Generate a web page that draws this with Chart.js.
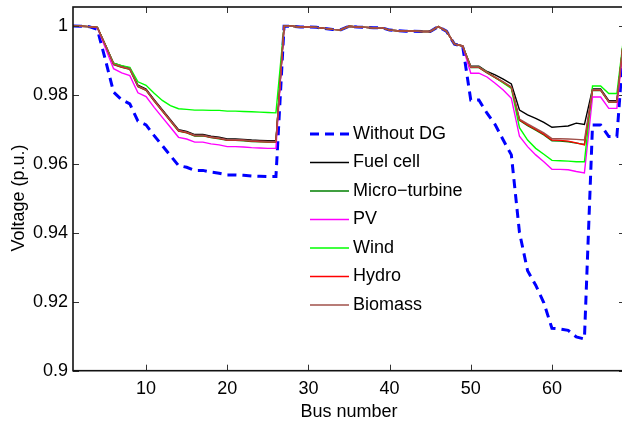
<!DOCTYPE html>
<html>
<head>
<meta charset="utf-8">
<script src="https://cdn.jsdelivr.net/npm/chart.js@4.4.1/dist/chart.umd.min.js"></script>
<style>
  html, body { margin: 0; padding: 0; background: #fff; overflow: hidden; }
  #wrap { width: 622px; height: 425px; overflow: hidden; position: relative; }
  canvas { display: block; }
</style>
</head>
<body>
<div id="wrap"><canvas id="c" width="626" height="425" style="width:626px;height:425px"></canvas></div>
<script>
// ---------------- DATA ----------------
const buses = [1,2,3,4,5,6,7,8,9,10,11,12,13,14,15,16,17,18,19,20,21,22,23,24,25,26,27,28,29,30,
  31,32,33,34,35,36,37,38,39,40,41,42,43,44,45,46,47,48,49,50,51,52,53,54,55,56,57,58,59,60,
  61,62,63,64,65,66,67,68,69];

const xTickValues = [10, 20, 30, 40, 50, 60];
const yTickValues = [0.9, 0.92, 0.94, 0.96, 0.98, 1.0];
const yTickLabels = ['0.9', '0.92', '0.94', '0.96', '0.98', '1'];

const xTitle = 'Bus number';
const yTitle = 'Voltage (p.u.)';
const seriesNames = ['Without DG', 'Fuel cell', 'Micro\u2212turbine', 'PV', 'Wind', 'Hydro', 'Biomass'];

const withoutDG = [1.0000, 0.9999, 0.9998, 0.9990, 0.9901, 0.9808, 0.9786, 0.9774, 0.9724, 0.9713,
  0.9682, 0.9653, 0.9624, 0.9595, 0.9590, 0.9581, 0.9581, 0.9576, 0.9573, 0.9568,
  0.9568, 0.9567, 0.9565, 0.9564, 0.9563, 0.9563, 0.9999, 0.9999, 0.9997, 0.9997,
  0.9996, 0.9993, 0.9990, 0.9989, 0.9999, 0.9997, 0.9996, 0.9995, 0.9995, 0.9988,
  0.9986, 0.9985, 0.9985, 0.9984, 0.9984, 0.9998, 0.9985, 0.9947, 0.9942, 0.9785,
  0.9785, 0.9747, 0.9714, 0.9669, 0.9626, 0.9401, 0.9290, 0.9248, 0.9197, 0.9123,
  0.9121, 0.9117, 0.9098, 0.9092, 0.9713, 0.9713, 0.9679, 0.9679, 0.9999];

const fuelCell = [1.0000, 0.9999, 0.9998, 0.9996, 0.9945, 0.9892, 0.9884, 0.9878, 0.9828, 0.9817,
  0.9786, 0.9757, 0.9728, 0.9699, 0.9694, 0.9685, 0.9685, 0.9680, 0.9677, 0.9672,
  0.9672, 0.9671, 0.9669, 0.9668, 0.9667, 0.9667, 0.9999, 0.9999, 0.9997, 0.9997,
  0.9996, 0.9993, 0.9990, 0.9989, 0.9999, 0.9997, 0.9996, 0.9995, 0.9995, 0.9988,
  0.9986, 0.9985, 0.9985, 0.9984, 0.9984, 0.9998, 0.9985, 0.9947, 0.9942, 0.9883,
  0.9883, 0.9868, 0.9858, 0.9846, 0.9832, 0.9756, 0.9742, 0.9732, 0.9720, 0.9706,
  0.9708, 0.9710, 0.9718, 0.9714, 0.9817, 0.9817, 0.9783, 0.9783, 1.0000];

const microTurbine = [1.0000, 0.9999, 0.9998, 0.9996, 0.9943, 0.9888, 0.9880, 0.9874, 0.9824, 0.9813,
  0.9782, 0.9753, 0.9724, 0.9695, 0.9690, 0.9681, 0.9681, 0.9676, 0.9673, 0.9668,
  0.9668, 0.9667, 0.9665, 0.9664, 0.9663, 0.9663, 0.9999, 0.9999, 0.9997, 0.9997,
  0.9996, 0.9993, 0.9990, 0.9989, 0.9999, 0.9997, 0.9996, 0.9995, 0.9995, 0.9988,
  0.9986, 0.9985, 0.9985, 0.9984, 0.9984, 0.9998, 0.9985, 0.9947, 0.9942, 0.9879,
  0.9879, 0.9864, 0.9850, 0.9836, 0.9821, 0.9726, 0.9711, 0.9698, 0.9684, 0.9667,
  0.9666, 0.9664, 0.9660, 0.9656, 0.9813, 0.9813, 0.9779, 0.9779, 1.0000];

const pv = [1.0000, 0.9999, 0.9998, 0.9995, 0.9935, 0.9876, 0.9864, 0.9856, 0.9806, 0.9795,
  0.9764, 0.9735, 0.9706, 0.9677, 0.9672, 0.9663, 0.9663, 0.9658, 0.9655, 0.9650,
  0.9650, 0.9649, 0.9647, 0.9646, 0.9645, 0.9645, 0.9999, 0.9999, 0.9997, 0.9997,
  0.9996, 0.9993, 0.9990, 0.9989, 0.9999, 0.9997, 0.9996, 0.9995, 0.9995, 0.9988,
  0.9986, 0.9985, 0.9985, 0.9984, 0.9984, 0.9998, 0.9985, 0.9947, 0.9942, 0.9863,
  0.9863, 0.9852, 0.9834, 0.9814, 0.9790, 0.9680, 0.9650, 0.9626, 0.9606, 0.9584,
  0.9584, 0.9583, 0.9578, 0.9574, 0.9794, 0.9794, 0.9761, 0.9761, 1.0000];

const wind = [1.0000, 0.9999, 0.9998, 0.9996, 0.9944, 0.9892, 0.9885, 0.9880, 0.9838, 0.9828,
  0.9805, 0.9784, 0.9769, 0.9760, 0.9758, 0.9756, 0.9756, 0.9755, 0.9755, 0.9753,
  0.9753, 0.9752, 0.9751, 0.9750, 0.9749, 0.9748, 0.9999, 0.9999, 0.9997, 0.9997,
  0.9996, 0.9993, 0.9990, 0.9989, 0.9999, 0.9997, 0.9996, 0.9995, 0.9995, 0.9988,
  0.9986, 0.9985, 0.9985, 0.9984, 0.9984, 0.9998, 0.9985, 0.9947, 0.9942, 0.9881,
  0.9881, 0.9866, 0.9851, 0.9835, 0.9819, 0.9705, 0.9669, 0.9645, 0.9628, 0.9610,
  0.9609, 0.9608, 0.9606, 0.9606, 0.9826, 0.9826, 0.9804, 0.9804, 1.0000];

const hydro = [1.0000, 0.9999, 0.9998, 0.9996, 0.9944, 0.9889, 0.9881, 0.9875, 0.9825, 0.9814,
  0.9783, 0.9754, 0.9725, 0.9696, 0.9691, 0.9682, 0.9682, 0.9677, 0.9674, 0.9669,
  0.9669, 0.9668, 0.9666, 0.9665, 0.9664, 0.9664, 0.9999, 0.9999, 0.9997, 0.9997,
  0.9996, 0.9993, 0.9990, 0.9989, 0.9999, 0.9997, 0.9996, 0.9995, 0.9995, 0.9988,
  0.9986, 0.9985, 0.9985, 0.9984, 0.9984, 0.9998, 0.9985, 0.9947, 0.9942, 0.9880,
  0.9880, 0.9865, 0.9851, 0.9837, 0.9822, 0.9728, 0.9713, 0.9700, 0.9686, 0.9669,
  0.9668, 0.9666, 0.9661, 0.9655, 0.9814, 0.9814, 0.9780, 0.9780, 1.0000];

const biomass = [1.0000, 0.9999, 0.9998, 0.9996, 0.9944, 0.9890, 0.9882, 0.9876, 0.9826, 0.9815,
  0.9784, 0.9755, 0.9726, 0.9697, 0.9692, 0.9683, 0.9683, 0.9678, 0.9675, 0.9670,
  0.9670, 0.9669, 0.9667, 0.9666, 0.9665, 0.9665, 0.9999, 0.9999, 0.9997, 0.9997,
  0.9996, 0.9993, 0.9990, 0.9989, 0.9999, 0.9997, 0.9996, 0.9995, 0.9995, 0.9988,
  0.9986, 0.9985, 0.9985, 0.9984, 0.9984, 0.9998, 0.9985, 0.9947, 0.9942, 0.9881,
  0.9881, 0.9866, 0.9852, 0.9838, 0.9823, 0.9730, 0.9716, 0.9703, 0.9690, 0.9673,
  0.9673, 0.9672, 0.9671, 0.9669, 0.9815, 0.9815, 0.9781, 0.9781, 1.0000];

// ---------------- STYLE ----------------
const FONT = "'Liberation Sans', Arial, Helvetica, sans-serif";
const seriesData = [withoutDG, fuelCell, microTurbine, pv, wind, hydro, biomass];
const seriesColors = ['#0000ff', '#000000', '#007f00', '#ff00ff', '#00ff00', '#ff0000', '#a0504a'];
const seriesWidths = [3, 1.4, 1.4, 1.4, 1.4, 1.4, 1.4];

const datasets = seriesNames.map((name, i) => ({
  label: name,
  data: buses.map((b, j) => ({ x: b, y: seriesData[i][j] })),
  borderColor: seriesColors[i],
  backgroundColor: seriesColors[i],
  borderWidth: seriesWidths[i],
  borderDash: i === 0 ? [9, 6] : [],
  pointRadius: 0,
  tension: 0,
  fill: false,
  order: seriesNames.length - i
}));

const boxAndTicks = {
  id: 'boxAndTicks',
  afterDatasetsDraw(chart) {
    const { ctx, chartArea: a, scales: { x, y } } = chart;
    ctx.save();
    ctx.strokeStyle = '#333';
    ctx.lineWidth = 1;
    const tl = 6;
    xTickValues.forEach(v => {
      const px = Math.round(x.getPixelForValue(v)) + 0.5;
      ctx.beginPath(); ctx.moveTo(px, a.bottom); ctx.lineTo(px, a.bottom - tl); ctx.stroke();
      ctx.beginPath(); ctx.moveTo(px, a.top); ctx.lineTo(px, a.top + tl); ctx.stroke();
    });
    yTickValues.forEach(v => {
      const py = Math.round(y.getPixelForValue(v)) + 0.5;
      ctx.beginPath(); ctx.moveTo(a.left, py); ctx.lineTo(a.left + tl, py); ctx.stroke();
      ctx.beginPath(); ctx.moveTo(a.right, py); ctx.lineTo(a.right - tl, py); ctx.stroke();
    });
    ctx.strokeStyle = '#111';
    ctx.lineWidth = 1.6;
    ctx.strokeRect(a.left, a.top, a.right - a.left, a.bottom - a.top);
    ctx.restore();
  }
};

const textPlugin = {
  id: 'customText',
  afterDraw(chart) {
    const { ctx, chartArea: a } = chart;
    ctx.save();
    ctx.font = '18px ' + FONT;
    // y-axis title
    ctx.save();
    ctx.translate(19.5, 198);
    ctx.rotate(-Math.PI / 2);
    ctx.textAlign = 'center';
    ctx.textBaseline = 'middle';
    ctx.fillStyle = '#000';
    ctx.fillText(yTitle, 0, 0);
    ctx.restore();
    // legend
    const x0 = 310, x1 = 349, tx = 353, y0 = 134, step = 28.5;
    ctx.textBaseline = 'middle';
    ctx.textAlign = 'left';
    chart.data.datasets.forEach((ds, i) => {
      const yy = y0 + i * step;
      ctx.beginPath();
      ctx.strokeStyle = ds.borderColor;
      ctx.lineWidth = ds.borderWidth;
      ctx.setLineDash(ds.borderDash || []);
      ctx.moveTo(x0, yy); ctx.lineTo(x1, yy);
      ctx.stroke();
      ctx.setLineDash([]);
      ctx.fillStyle = '#000';
      ctx.fillText(ds.label, tx, yy);
    });
    ctx.restore();
  }
};

new Chart(document.getElementById('c'), {
  type: 'line',
  data: { datasets },
  options: {
    responsive: false,
    animation: false,
    devicePixelRatio: 1,
    layout: { padding: { left: 0, right: 1, top: 7, bottom: 0 } },
    plugins: { legend: { display: false }, tooltip: { enabled: false } },
    scales: {
      x: {
        type: 'linear',
        min: 1, max: 69,
        afterBuildTicks: s => { s.ticks = xTickValues.map(v => ({ value: v })); },
        afterFit: s => { s.height = 54.3; s.paddingLeft = 0; s.paddingRight = 0; },
        grid: { display: false, drawTicks: false },
        border: { display: false },
        ticks: { font: { family: FONT, size: 18 }, color: '#000', padding: 8, maxRotation: 0, autoSkip: false },
        title: { display: true, text: xTitle, font: { family: FONT, size: 18 }, color: '#000', padding: { top: 0, bottom: 2 } }
      },
      y: {
        type: 'linear',
        min: 0.9, max: 1.0055,
        afterBuildTicks: s => { s.ticks = yTickValues.map(v => ({ value: v })); },
        afterFit: s => { s.width = 73; s.paddingTop = 0; s.paddingBottom = 0; },
        grid: { display: false, drawTicks: false },
        border: { display: false },
        ticks: {
          font: { family: FONT, size: 18 }, color: '#000', padding: 5, autoSkip: false,
          callback: (v) => { const k = yTickValues.findIndex(t => Math.abs(t - v) < 1e-9); return k >= 0 ? yTickLabels[k] : ''; }
        },
        title: { display: false }
      }
    }
  },
  plugins: [boxAndTicks, textPlugin]
});
</script>
</body>
</html>
